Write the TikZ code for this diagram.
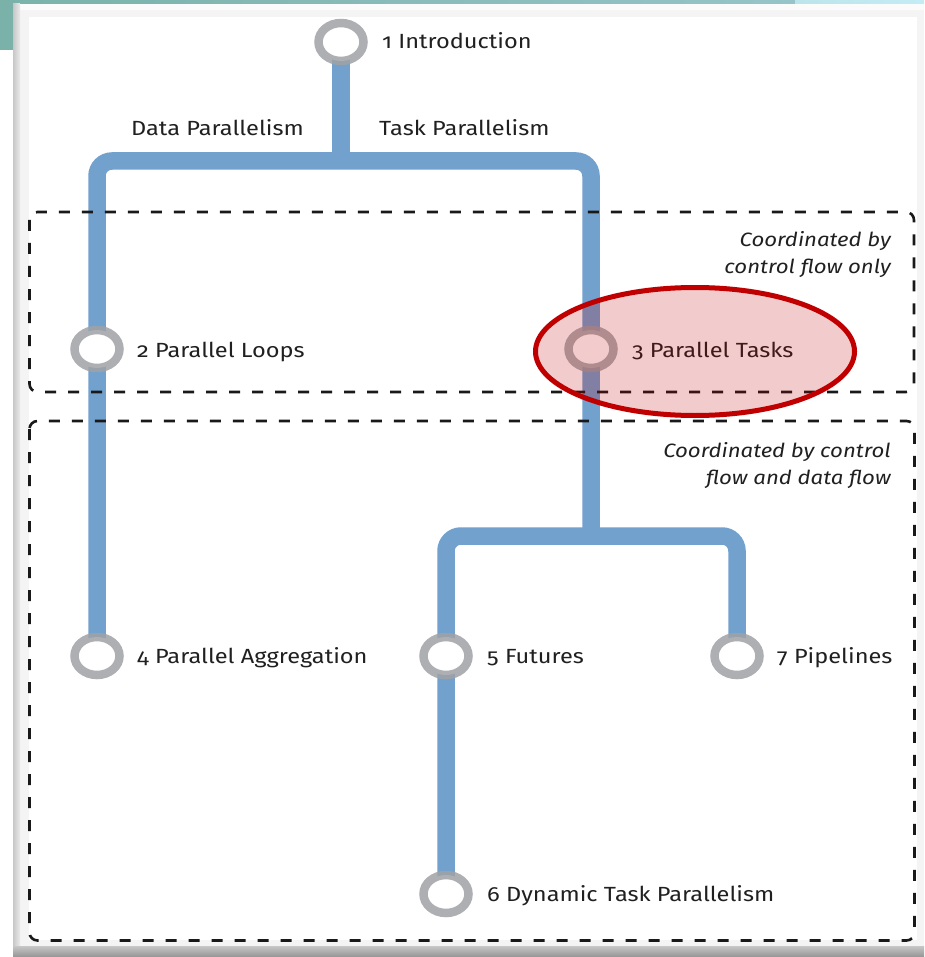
\documentclass[tikz,border=0pt]{standalone}
\usepackage{fontspec}
\setmainfont{Fira Sans}[Numbers=OldStyle, FakeStretch=1.15]
\usetikzlibrary{shapes.geometric}

\definecolor{trunk}{RGB}{114,161,206}
\definecolor{ringgray}{RGB}{160,162,166}
\definecolor{ink}{RGB}{32,32,32}
\definecolor{zoneink}{RGB}{25,25,25}
\definecolor{hlred}{RGB}{192,0,0}
\definecolor{tealbg}{RGB}{122,178,170}
\definecolor{tealmid}{RGB}{150,196,200}
\definecolor{cyanbg}{RGB}{196,236,244}
\definecolor{panelgray}{RGB}{244,244,244}

\pgfdeclarelayer{frame}
\pgfdeclarelayer{lines}
\pgfdeclarelayer{top}
\pgfsetlayers{frame,lines,main,top}

\tikzset{
  stop/.style={ellipse, draw=ringgray, draw opacity=0.85, line width=8.5pt, fill=white,
    minimum width=45pt, minimum height=38pt, inner sep=0pt},
  stoptext/.style={anchor=base west, inner sep=0pt, text=ink,
    font=\fontsize{20.5}{24}\selectfont},
  zonenote/.style={anchor=north east, align=right, inner sep=0pt, text=ink,
    font=\fontsize{19.3}{27}\selectfont\itshape},
  trunkline/.style={draw=trunk, line width=17.5pt, rounded corners=15pt},
  zonebox/.style={draw=zoneink, line width=2.6pt, dash pattern=on 11pt off 12pt,
    rounded corners=8pt},
  highlight/.style={ellipse, draw=hlred, line width=5pt, fill=hlred, fill opacity=0.2,
    draw opacity=1, minimum width=319pt, minimum height=128pt, inner sep=0pt}
}

\begin{document}
\begin{tikzpicture}[x=1pt, y=-1pt]
\useasboundingbox (0,0) rectangle (924,957);

% slide frame and panel
\begin{pgfonlayer}{frame}
  \fill[white] (0,0) rectangle (924,957);
  \shade[left color=tealbg, right color=tealmid] (0,0) rectangle (795,4);
  \shade[left color=cyanbg!80!tealmid, right color=cyanbg] (795,0) rectangle (924,4);
  \fill[tealbg] (0,0) rectangle (13,50);
  \fill[panelgray] (13,4) rectangle (924,957);
  \fill[white!60!panelgray] (19,4) rectangle (924,10);
  \shade[left color=black!22, right color=black!8] (13,4) rectangle (20,957);
  \shade[top color=black!22, bottom color=black!42] (13,946) rectangle (924,957);
  \fill[white] (29,17) rectangle (917,940);
\end{pgfonlayer}

% stations
\node[stop] (n1) at (341,42) {};
\node[stop] (n2) at (97,349) {};
\node[stop] (n3) at (591,349) {};
\node[stop] (n4) at (97,656) {};
\node[stop] (n5) at (446,656) {};
\node[stop] (n7) at (737,656) {};
\node[stop] (n6) at (446,894) {};

\coordinate (fork) at (341,161);
\coordinate (fork2) at (591,536);

% trunk lines behind the stations
\begin{pgfonlayer}{lines}
  \draw[trunkline] (n1.center) -- (fork);
  \draw[trunkline] (n4.center) -- (n4 |- fork) -- (n3 |- fork) -- (n3.center) -- (fork2);
  \draw[trunkline] (n6.center) -- (n6 |- fork2) -- (n7 |- fork2) -- (n7.center);
\end{pgfonlayer}

% station names
\node[stoptext] (t1) at (382,49) {1 Introduction};
\node[stoptext] (t2) at (137,357) {2 Parallel Loops};
\node[stoptext] (t3) at (632,357) {3 Parallel Tasks};
\node[stoptext] (t4) at (137,663) {4 Parallel Aggregation};
\node[stoptext] (t5) at (487,663) {5 Futures};
\node[stoptext] (t7) at (777,663) {7 Pipelines};
\node[stoptext] (t6) at (487,901) {6 Dynamic Task Parallelism};

% branch names
\node[stoptext] (dp) at (131,136) {Data Parallelism};
\node[stoptext] (tp) at (379,136) {Task Parallelism};

% coordination zones
\draw[zonebox] (29.5,212) rectangle (914,392);
\draw[zonebox] (29.5,421) rectangle (914.5,940.5);
\node[zonenote] (z1) at (891,231) {Coordinated by\\control flow only};
\node[zonenote] (z2) at (891,442) {Coordinated by control\\flow and data flow};

% highlighted chapter
\begin{pgfonlayer}{top}
  \node[highlight] (hl) at (695,351.5) {};
\end{pgfonlayer}
\end{tikzpicture}
\end{document}
